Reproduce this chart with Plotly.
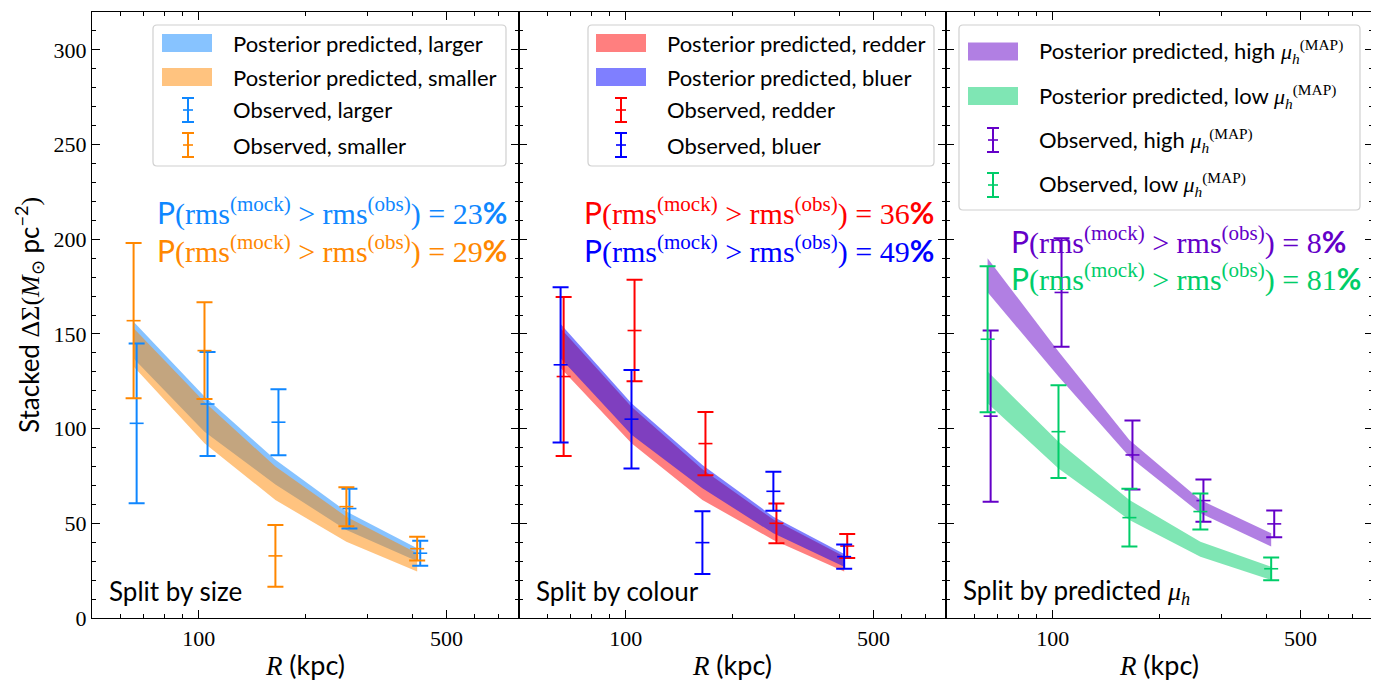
import plotly.graph_objects as go

# ---------------- data ----------------
R_bins = [65.5, 103.8, 164.5, 260.8, 413.0]

# Panel 1: split by size
size_larger_lo = [137.0, 98.4, 70.5, 46.5, 30.0]
size_larger_hi = [156.5, 117.0, 83.5, 56.2, 36.8]
size_smaller_lo = [132.8, 92.3, 62.3, 40.3, 24.5]
size_smaller_hi = [153.0, 114.0, 80.0, 53.5, 34.2]
obs_larger = [102.8, 113.0, 103.4, 57.8, 34.2]
obs_larger_err = [42.2, 27.5, 17.4, 10.5, 6.6]
obs_smaller = [157.0, 141.2, 32.8, 58.8, 36.6]
obs_smaller_err = [41.0, 25.5, 16.3, 10.3, 6.3]

# Panel 2: split by colour
col_redder_lo = [132.0, 92.3, 62.3, 41.2, 24.5]
col_redder_hi = [153.0, 111.5, 78.5, 52.0, 32.5]
col_bluer_lo = [137.2, 96.7, 68.5, 44.7, 27.1]
col_bluer_hi = [155.3, 113.4, 80.8, 53.5, 33.8]
obs_redder = [127.5, 151.8, 92.1, 50.0, 38.0]
obs_redder_err = [42.0, 26.8, 16.7, 10.5, 6.3]
obs_bluer = [133.7, 105.0, 39.8, 66.9, 32.4]
obs_bluer_err = [41.0, 26.0, 16.6, 10.3, 6.4]

# Panel 3: split by predicted mu_h
mu_high_lo = [172.0, 127.5, 85.2, 55.3, 37.7]
mu_high_hi = [190.0, 140.7, 94.0, 62.3, 44.7]
mu_low_lo = [113.4, 79.0, 51.8, 32.4, 20.1]
mu_low_hi = [130.1, 93.1, 62.3, 40.3, 27.1]
obs_high = [106.6, 171.9, 86.1, 62.0, 49.7]
obs_high_err = [45.2, 28.6, 18.2, 11.2, 7.0]
obs_low = [147.2, 98.4, 53.0, 56.2, 26.0]
obs_low_err = [38.5, 24.5, 15.2, 9.5, 6.0]

p_values = [["23", "29"], ["36", "49"], ["8", "81"]]
x_tick_vals = [100, 500]
x_tick_text = ["100", "500"]

# ---------------- style ----------------
SANS = "Lato"
SERIF = "Liberation Serif"
OFF = 8  # default page body margin
W, H = 1379 - OFF, 684 - OFF
ML, MR, MT, MB = 92 - OFF, 6, 12 - OFF, 66
PW = (W - ML - MR) / 3.0
PH = H - MT - MB


def px(xp):
    """reference page pixel x -> paper fraction"""
    return (xp - OFF - ML) / (W - ML - MR)


def py(yp):
    """reference page pixel y -> paper fraction"""
    return (H - MB - (yp - OFF)) / PH


def rgba(c, a):
    return "rgba(%d,%d,%d,%.2f)" % (c[0], c[1], c[2], a)


C_LARGER = (15, 135, 255)
C_SMALLER = (255, 135, 0)
C_REDDER = (255, 0, 0)
C_BLUER = (0, 0, 255)
C_HIGH = (100, 0, 200)
C_LOW = (0, 205, 105)

mu_map = '<i>μ</i><sub><i>h</i></sub><sup>(MAP)</sup>'
mu_map_f = '<span style="font-family:%s">%s</span>' % (SERIF, mu_map)

panels = [
    dict(
        bands=[(size_larger_lo, size_larger_hi, C_LARGER), (size_smaller_lo, size_smaller_hi, C_SMALLER)],
        obs=[(obs_larger, obs_larger_err, C_LARGER, 1.02), (obs_smaller, obs_smaller_err, C_SMALLER, 1.0)],
        labels=["Posterior predicted, larger", "Posterior predicted, smaller",
                "Observed, larger", "Observed, smaller"],
        split="Split by size",
        leg=dict(box=(153, 25, 506, 166), sw=(162, 212), ex=188, tx=231, rows=[43, 77, 110, 145]),
        pv_y=[211, 249],
    ),
    dict(
        bands=[(col_redder_lo, col_redder_hi, C_REDDER), (col_bluer_lo, col_bluer_hi, C_BLUER)],
        obs=[(obs_redder, obs_redder_err, C_REDDER, 1.02), (obs_bluer, obs_bluer_err, C_BLUER, 1.0)],
        labels=["Posterior predicted, redder", "Posterior predicted, bluer",
                "Observed, redder", "Observed, bluer"],
        split="Split by colour",
        leg=dict(box=(588, 25, 934, 166), sw=(596, 646), ex=621, tx=665, rows=[43, 77, 110, 145]),
        pv_y=[211, 249],
    ),
    dict(
        bands=[(mu_high_lo, mu_high_hi, C_HIGH), (mu_low_lo, mu_low_hi, C_LOW)],
        obs=[(obs_high, obs_high_err, C_HIGH, 1.02), (obs_low, obs_low_err, C_LOW, 1.0)],
        labels=["Posterior predicted, high " + mu_map_f, "Posterior predicted, low " + mu_map_f,
                "Observed, high " + mu_map_f, "Observed, low " + mu_map_f],
        split='Split by predicted <span style="font-family:%s"><i>μ</i><sub><i>h</i></sub></span>' % SERIF,
        leg=dict(box=(959, 25, 1360, 210), sw=(968, 1018), ex=993, tx=1037, rows=[51.5, 96, 140, 185]),
        pv_y=[240, 277],
    ),
]

fig = go.Figure()
shapes = []
annotations = []

for i, p in enumerate(panels):
    k = "" if i == 0 else str(i + 1)
    xa, ya = "x" + k, "y" + k
    for lo, hi, c in p["bands"]:
        fig.add_trace(go.Scatter(x=R_bins, y=lo, mode="lines", line=dict(width=0),
                                 showlegend=False, hoverinfo="skip", xaxis=xa, yaxis=ya))
        fig.add_trace(go.Scatter(x=R_bins, y=hi, mode="lines", line=dict(width=0),
                                 fill="tonexty", fillcolor=rgba(c, 0.5),
                                 showlegend=False, hoverinfo="skip", xaxis=xa, yaxis=ya))
    for vals, errs, c, fac in p["obs"]:
        col = rgba(c, 1)
        fig.add_trace(go.Scatter(
            x=[r * fac for r in R_bins], y=vals, mode="markers",
            marker=dict(symbol="line-ew", size=10, color=col, line=dict(width=1.6, color=col)),
            error_y=dict(type="data", array=errs, visible=True, color=col, thickness=2, width=8),
            showlegend=False, xaxis=xa, yaxis=ya))

    # axes
    fig.update_layout(**{
        "xaxis" + k: dict(
            domain=[i / 3.0, (i + 1) / 3.0], type="log", range=[1.69897, 2.90309],
            tickmode="array", tickvals=x_tick_vals, ticktext=x_tick_text,
            ticks="inside", ticklen=8, tickwidth=1.2, tickcolor="black",
            minor=dict(tickmode="array", tickvals=[60, 70, 80, 90, 200, 300, 400, 600, 700, 800],
                       ticks="inside", ticklen=4, tickwidth=1, tickcolor="black"),
            showline=True, linecolor="black", linewidth=1.2, mirror="allticks",
            showgrid=False, zeroline=False, anchor=ya,
            tickfont=dict(family=SERIF, size=22, color="black"),
            title=dict(text='<span style="font-family:%s"><i>R</i></span> (kpc)' % SERIF,
                       font=dict(family=SANS, size=27, color="black"), standoff=6),
        ),
        "yaxis" + k: dict(
            domain=[0, 1], range=[0, 320], tick0=0, dtick=50,
            ticks="inside", ticklen=8, tickwidth=1.2, tickcolor="black",
            minor=dict(dtick=10, ticks="inside", ticklen=4, tickwidth=1, tickcolor="black"),
            showline=True, linecolor="black", linewidth=1.2, mirror="allticks",
            showgrid=False, zeroline=False, anchor=xa,
            showticklabels=(i == 0),
            tickfont=dict(family=SERIF, size=22, color="black"),
        ),
    })

    # legend (drawn box)
    lg = p["leg"]
    x0, y0, x1, y1 = lg["box"]
    r = 4
    path = ("M %f,%f L %f,%f Q %f,%f %f,%f L %f,%f Q %f,%f %f,%f L %f,%f Q %f,%f %f,%f L %f,%f Q %f,%f %f,%f Z" % (
        px(x0 + r), py(y0), px(x1 - r), py(y0), px(x1), py(y0), px(x1), py(y0 + r),
        px(x1), py(y1 - r), px(x1), py(y1), px(x1 - r), py(y1),
        px(x0 + r), py(y1), px(x0), py(y1), px(x0), py(y1 - r),
        px(x0), py(y0 + r), px(x0), py(y0), px(x0 + r), py(y0)))
    shapes.append(dict(type="path", path=path, xref="paper", yref="paper",
                       fillcolor="rgba(255,255,255,0.85)", line=dict(color="#d0d0d0", width=1.2),
                       layer="above"))
    band_cols = [p["bands"][0][2], p["bands"][1][2]]
    obs_cols = [p["obs"][0][2], p["obs"][1][2]]
    for j, ry in enumerate(lg["rows"]):
        if j < 2:
            shapes.append(dict(type="rect", xref="paper", yref="paper",
                               x0=px(lg["sw"][0]), x1=px(lg["sw"][1]),
                               y0=py(ry - 9), y1=py(ry + 9),
                               fillcolor=rgba(band_cols[j], 0.5), line=dict(width=0), layer="above"))
        else:
            col = rgba(obs_cols[j - 2], 1)
            ex = lg["ex"]
            for (xa0, ya0, xa1, ya1, wdt) in [
                (ex, ry - 12, ex, ry + 12, 2),
                (ex - 6, ry - 12, ex + 6, ry - 12, 2),
                (ex - 6, ry + 12, ex + 6, ry + 12, 2),
                (ex - 5, ry, ex + 5, ry, 1.6),
            ]:
                shapes.append(dict(type="line", xref="paper", yref="paper",
                                   x0=px(xa0), x1=px(xa1), y0=py(ya0), y1=py(ya1),
                                   line=dict(color=col, width=wdt), layer="above"))
        annotations.append(dict(xref="paper", yref="paper", x=px(lg["tx"]), y=py(ry),
                                xanchor="left", yanchor="middle", showarrow=False,
                                text=p["labels"][j], font=dict(family=SANS, size=22, color="black")))

    # p-value annotations
    left = 92 + i * PW + 63
    for j in range(2):
        c = rgba(p["obs"][j][2], 1)
        txt = ('<span style="font-family:%s">P</span>(rms<sup>(mock)</sup> &gt; rms<sup>(obs)</sup>) = %s'
               '<span style="font-family:%s"><b>%%</b></span>' % (SANS, p_values[i][j], SANS))
        annotations.append(dict(xref="paper", yref="paper", x=px(left), y=py(p["pv_y"][j]),
                                xanchor="left", yanchor="middle", showarrow=False, text=txt,
                                font=dict(family=SERIF, size=30, color=c)))

    # split label
    annotations.append(dict(xref="paper", yref="paper", x=px(92 + i * PW + 15), y=py(591),
                            xanchor="left", yanchor="middle", showarrow=False, text=p["split"],
                            font=dict(family=SANS, size=26, color="black")))

# y title
annotations.append(dict(
    xref="paper", yref="paper", x=px(29), y=0.5, xanchor="center", yanchor="middle",
    showarrow=False, textangle=-90,
    text=('Stacked <span style="font-family:%s">ΔΣ(<i>M</i><sub>⊙</sub></span> pc<sup>−2</sup>'
          '<span style="font-family:%s">)</span>' % (SERIF, SERIF)),
    font=dict(family=SANS, size=26, color="black")))

fig.update_layout(
    width=W, height=H,
    margin=dict(l=ML, r=MR, t=MT, b=MB),
    paper_bgcolor="white", plot_bgcolor="white",
    showlegend=False,
    shapes=shapes, annotations=annotations,
)

fig.write_html("out.html")
